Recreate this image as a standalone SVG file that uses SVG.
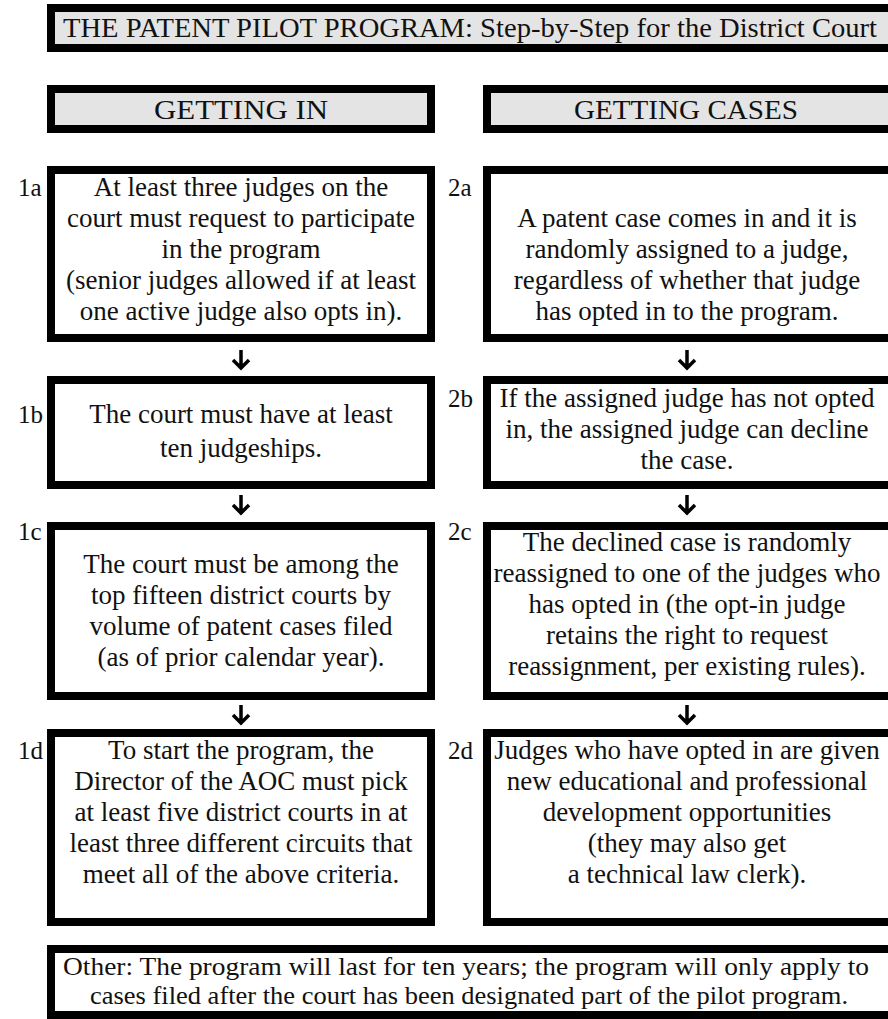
<svg xmlns="http://www.w3.org/2000/svg" width="888" height="1019" viewBox="0 0 888 1019">
<style>
.box{fill:#ffffff;stroke:#000000;stroke-width:8}
.hdr{fill:#e4e4e4;stroke:#000000;stroke-width:8}
text{font-family:"Liberation Serif","Times New Roman",serif;fill:#111111}
.t{font-size:27px;text-anchor:middle}
.o{font-size:26px;text-anchor:middle}
.h{font-size:28px;text-anchor:middle}
.lbl{font-size:25px;text-anchor:start}
.arr{fill:none;stroke:#000000;stroke-width:3.5;stroke-linecap:butt;stroke-linejoin:miter}
</style>
<rect width="888" height="1019" fill="#ffffff"/>
<g id="title">
<rect class="hdr" x="51" y="8" width="849" height="40"/>
<text class="h" x="470" y="37" textLength="814" lengthAdjust="spacingAndGlyphs">THE PATENT PILOT PROGRAM: Step-by-Step for the District Court</text>
</g>
<g id="hdr-getting-in">
<rect class="hdr" x="51" y="89" width="380" height="40"/>
<text class="h" x="241" y="119" textLength="174" lengthAdjust="spacingAndGlyphs">GETTING IN</text>
</g>
<g id="hdr-getting-cases">
<rect class="hdr" x="487" y="89" width="413" height="40"/>
<text class="h" x="686" y="119" textLength="224" lengthAdjust="spacingAndGlyphs">GETTING CASES</text>
</g>
<g id="n1a">
<text class="lbl" x="18" y="196">1a</text>
<rect class="box" x="51" y="170" width="380" height="168"/>
<text class="t" x="241" y="196">At least three judges on the</text>
<text class="t" x="241" y="227">court must request to participate</text>
<text class="t" x="241" y="258">in the program</text>
<text class="t" x="241" y="289">(senior judges allowed if at least</text>
<text class="t" x="241" y="320">one active judge also opts in).</text>
</g>
<g id="n1b">
<text class="lbl" x="18" y="423">1b</text>
<rect class="box" x="51" y="380" width="380" height="105"/>
<text class="t" x="241" y="423">The court must have at least</text>
<text class="t" x="241" y="457">ten judgeships.</text>
</g>
<g id="n1c">
<text class="lbl" x="18" y="540">1c</text>
<rect class="box" x="51" y="526" width="380" height="170"/>
<text class="t" x="241" y="573">The court must be among the</text>
<text class="t" x="241" y="604">top fifteen district courts by</text>
<text class="t" x="241" y="635">volume of patent cases filed</text>
<text class="t" x="241" y="666">(as of prior calendar year).</text>
</g>
<g id="n1d">
<text class="lbl" x="18" y="759">1d</text>
<rect class="box" x="51" y="733" width="380" height="189"/>
<text class="t" x="241" y="759">To start the program, the</text>
<text class="t" x="241" y="790">Director of the AOC must pick</text>
<text class="t" x="241" y="821">at least five district courts in at</text>
<text class="t" x="241" y="852">least three different circuits that</text>
<text class="t" x="241" y="883">meet all of the above criteria.</text>
</g>
<g id="n2a">
<text class="lbl" x="448" y="196">2a</text>
<rect class="box" x="487" y="170" width="413" height="168"/>
<text class="t" x="687" y="227">A patent case comes in and it is</text>
<text class="t" x="687" y="258">randomly assigned to a judge,</text>
<text class="t" x="687" y="289">regardless of whether that judge</text>
<text class="t" x="687" y="320">has opted in to the program.</text>
</g>
<g id="n2b">
<text class="lbl" x="448" y="407">2b</text>
<rect class="box" x="487" y="380" width="413" height="105"/>
<text class="t" x="687" y="407">If the assigned judge has not opted</text>
<text class="t" x="687" y="438">in, the assigned judge can decline</text>
<text class="t" x="687" y="469">the case.</text>
</g>
<g id="n2c">
<text class="lbl" x="448" y="540">2c</text>
<rect class="box" x="487" y="526" width="413" height="170"/>
<text class="t" x="687" y="551">The declined case is randomly</text>
<text class="t" x="687" y="582">reassigned to one of the judges who</text>
<text class="t" x="687" y="613">has opted in (the opt-in judge</text>
<text class="t" x="687" y="644">retains the right to request</text>
<text class="t" x="687" y="675">reassignment, per existing rules).</text>
</g>
<g id="n2d">
<text class="lbl" x="448" y="759">2d</text>
<rect class="box" x="487" y="733" width="413" height="189"/>
<text class="t" x="687" y="759">Judges who have opted in are given</text>
<text class="t" x="687" y="790">new educational and professional</text>
<text class="t" x="687" y="821">development opportunities</text>
<text class="t" x="687" y="852">(they may also get</text>
<text class="t" x="687" y="883">a technical law clerk).</text>
</g>
<g id="other">
<rect class="box" x="51" y="949" width="849" height="66"/>
<text class="o" x="466" y="975" textLength="806" lengthAdjust="spacingAndGlyphs">Other: The program will last for ten years; the program will only apply to</text>
<text class="o" x="469" y="1004" textLength="758" lengthAdjust="spacingAndGlyphs">cases filed after the court has been designated part of the pilot program.</text>
</g>
<g id="connectors">
<path class="arr" d="M241 350V368M233 360L241 368L249 360"/>
<path class="arr" d="M241 495V513M233 505L241 513L249 505"/>
<path class="arr" d="M241 705V723M233 715L241 723L249 715"/>
<path class="arr" d="M687 350V368M679 360L687 368L695 360"/>
<path class="arr" d="M687 495V513M679 505L687 513L695 505"/>
<path class="arr" d="M687 705V723M679 715L687 723L695 715"/>
</g>
</svg>
